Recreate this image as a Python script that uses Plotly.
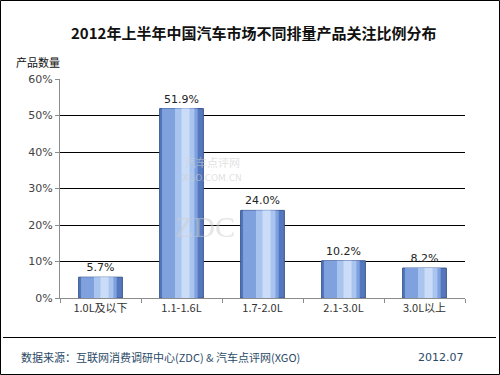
import plotly.graph_objects as go

categories = ["1.0L及以下", "1.1-1.6L", "1.7-2.0L", "2.1-3.0L", "3.0L以上"]
values = [5.7, 51.9, 24.0, 10.2, 8.2]
labels = ["5.7%", "51.9%", "24.0%", "10.2%", "8.2%"]
y_ticks = [0, 10, 20, 30, 40, 50, 60]
y_tick_text = ["0%", "10%", "20%", "30%", "40%", "50%", "60%"]

title = "2012年上半年中国汽车市场不同排量产品关注比例分布"
y_title = "产品数量"
source = "数据来源：互联网消费调研中心(ZDC) & 汽车点评网(XGO)"
date = "2012.07"

CJK = "Noto Sans CJK SC"
LAT = "DejaVu Sans"

fig = go.Figure()
# layered bars to imitate the glossy gradient
fig.add_trace(go.Bar(x=categories, y=values, width=0.54,
                     marker=dict(color="#5477bd", line=dict(color="#3a5690", width=1)),
                     text=labels, textposition="outside",
                     textfont=dict(family=LAT, size=11, color="#222222"),
                     cliponaxis=False, hoverinfo="skip"))
fig.add_trace(go.Bar(x=categories, y=values, width=0.44, offset=-0.24,
                     marker=dict(color="#7fa2df", line=dict(width=0)), hoverinfo="skip"))
fig.add_trace(go.Bar(x=categories, y=values, width=0.24, offset=-0.08,
                     marker=dict(color="#a9c4ee", line=dict(width=0)), hoverinfo="skip"))
fig.add_trace(go.Bar(x=categories, y=values, width=0.1, offset=0.0,
                     marker=dict(color="#cadcf7", line=dict(width=0)), hoverinfo="skip"))

fig.update_layout(
    width=500, height=375,
    margin=dict(l=60, r=35, t=79, b=77),
    paper_bgcolor="white", plot_bgcolor="white",
    barmode="overlay", showlegend=False,
    font=dict(family=CJK, size=11, color="#222222"),
    xaxis=dict(type="category", showgrid=False, showline=True, linecolor="#8c8c8c",
               ticks="outside", tickson="boundaries", ticklen=4, tickcolor="#8c8c8c",
               tickfont=dict(family=CJK, size=11, color="#333333"),
               range=[-0.5, 4.5]),
    yaxis=dict(range=[0, 60], tickvals=y_ticks, ticktext=y_tick_text,
               showgrid=True, gridcolor="#000000", gridwidth=1,
               showline=True, linecolor="#8c8c8c", ticks="outside", ticklen=4,
               tickcolor="#8c8c8c", zeroline=False,
               tickfont=dict(family=LAT, size=11, color="#444444")),
)

def px(xp):
    return (xp - 60) / 405

def py(yp):
    return (298 - yp) / 219

# watermark-like faint texts
fig.add_annotation(xref="paper", yref="paper", x=px(212), y=py(162), yanchor="middle",
                   text="汽车点评网", showarrow=False,
                   font=dict(family=CJK, size=11, color="rgba(205,205,205,0.6)"))
fig.add_annotation(xref="paper", yref="paper", x=px(212), y=py(178), yanchor="middle",
                   text="XGO.COM.CN", showarrow=False,
                   font=dict(family=LAT, size=9, color="rgba(205,205,205,0.6)"))
fig.add_annotation(xref="paper", yref="paper", x=px(205), y=py(226), yanchor="middle",
                   text="ZDC", showarrow=False,
                   font=dict(family="Liberation Serif", size=30, color="rgba(205,205,205,0.5)"))

fig.add_annotation(xref="paper", yref="paper", x=px(253), y=py(33), xanchor="center", yanchor="middle",
                   text="<b>" + title + "</b>", showarrow=False,
                   font=dict(family=CJK, size=15, color="#111111"))
fig.add_annotation(xref="paper", yref="paper", x=px(14), y=py(62), xanchor="left", yanchor="middle",
                   text=y_title, showarrow=False,
                   font=dict(family=CJK, size=11, color="#111111"))
fig.add_annotation(xref="paper", yref="paper", x=px(19), y=py(357), xanchor="left", yanchor="middle",
                   text=source, showarrow=False,
                   font=dict(family=CJK, size=11, color="#2a4a66"))
fig.add_annotation(xref="paper", yref="paper", x=px(466), y=py(357), xanchor="right", yanchor="middle",
                   text=date, showarrow=False,
                   font=dict(family=LAT, size=11, color="#2a4a66"))

fig.add_shape(type="line", xref="paper", yref="paper", x0=px(3), x1=px(496), y0=py(337.5), y1=py(337.5),
              line=dict(color="#000000", width=1))
fig.add_shape(type="rect", xref="paper", yref="paper", x0=px(0.5), x1=px(499.5), y0=py(0.5), y1=py(374.5),
              line=dict(color="#000000", width=1))

fig.write_html("out.html")
